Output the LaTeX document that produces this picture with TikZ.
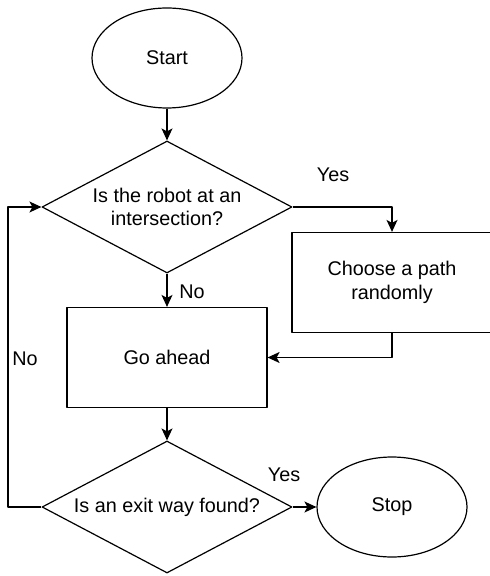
\documentclass[tikz,border=0pt]{standalone}
\usepackage{fontspec}
\setmainfont{Liberation Sans}
\usetikzlibrary{shapes.geometric,arrows.meta}

\tikzset{
  terminal/.style={ellipse, draw, minimum width=75pt, minimum height=50pt, inner sep=0pt},
  decision/.style={diamond, draw, shape aspect=1.9, minimum width=125pt, minimum height=66pt, inner sep=0pt, align=center},
  process/.style={rectangle, draw, minimum width=100pt, minimum height=50pt, align=center},
  lbl/.style={inner sep=0pt}
}

\begin{document}
\begin{tikzpicture}[x=0.5pt, y=-0.5pt, >={Stealth[length=6pt, width=5.5pt, inset=1.5pt]},
    line width=0.6pt, line join=round, font=\fontsize{9.9}{11.7}\selectfont]
  \useasboundingbox (0, 0) rectangle (489, 576);

  % Nodes
  \node[terminal] (start) at (167, 58) {Start};
  \node[decision] (robot) at (167, 207) {Is the robot at an\\intersection?};
  \node[process] (choose) at (392, 282.5) {Choose a path\\randomly};
  \node[process] (ahead) at (167, 357.5) {Go ahead};
  \node[decision] (exit) at (167, 507) {Is an exit way found?};
  \node[terminal] (stop) at (392, 507) {Stop};

  % Connectors
  \draw[->] (start) -- (robot);
  \draw[->] (robot.east) -| (choose.north);
  \draw[->] (choose.south) |- (ahead.east);
  \draw[->] (robot) -- (ahead);
  \draw[->] (ahead) -- (exit);
  \draw[->] (exit) -- (stop);
  \coordinate (loop) at (8, 507);
  \draw[->] (exit.west) -- (loop) |- (robot.west);

  % Labels
  \node[lbl] (yes1) at (333, 175) {Yes};
  \node[lbl] (no1) at (192, 292) {No};
  \node[lbl] (no2) at (25, 359) {No};
  \node[lbl] (yes2) at (284, 475) {Yes};
\end{tikzpicture}
\end{document}
